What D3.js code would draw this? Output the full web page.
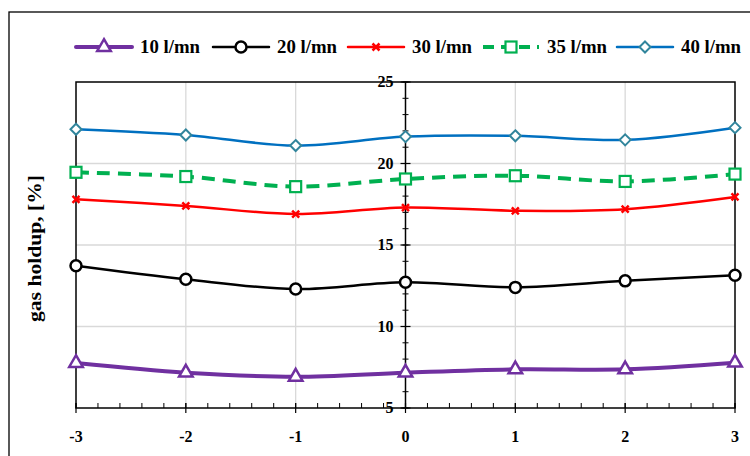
<!DOCTYPE html>
<html><head><meta charset="utf-8">
<script src="https://cdn.jsdelivr.net/npm/d3@7"></script>
<style>body{margin:0;background:#fff}svg{display:block}</style>
</head><body>
<svg id="c" width="750" height="456"></svg>
<script>
const positions = [-3, -2, -1, 0, 1, 2, 3];
const seriesNames = ["10 l/mn", "20 l/mn", "30 l/mn", "35 l/mn", "40 l/mn"];
const s10 = [7.76, 7.17, 6.92, 7.17, 7.37, 7.37, 7.78];
const s20 = [13.73, 12.9, 12.3, 12.71, 12.4, 12.8, 13.15];
const s30 = [17.8, 17.4, 16.9, 17.3, 17.1, 17.2, 17.95];
const s35 = [19.46, 19.2, 18.58, 19.05, 19.25, 18.9, 19.35];
const s40 = [22.1, 21.75, 21.1, 21.65, 21.7, 21.45, 22.2];
const xTicks = [-3, -2, -1, 0, 1, 2, 3];
const yTicks = [5, 10, 15, 20, 25];
const yTitle = "gas holdup, [%]";

const styles = [
  {color:"#7030A0", width:4, dash:null, marker:"triangle", mstroke:"#7030A0"},
  {color:"#000000", width:2.5, dash:null, marker:"circle", mstroke:"#000000"},
  {color:"#FF0000", width:2.5, dash:null, marker:"x", mstroke:"#FF0000"},
  {color:"#00B050", width:4, dash:"13,8", marker:"square", mstroke:"#00B050"},
  {color:"#0070C0", width:2.5, dash:null, marker:"diamond", mstroke:"#31859C"}
];
const allSeries = [s10, s20, s30, s35, s40];

const svg = d3.select("#c");
const font = "'Liberation Serif','Times New Roman',serif";
const L = 76, R = 735, T = 82, B = 408;
const x = d3.scaleLinear().domain([-3, 3]).range([L, R]);
const y = d3.scaleLinear().domain([5, 25]).range([B, T]);

// outer frame
svg.append("rect").attr("x", 9).attr("y", 12).attr("width", 760).attr("height", 470)
  .attr("fill", "none").attr("stroke", "#000").attr("stroke-width", 1.3);

// gridlines
const grid = svg.append("g");
grid.selectAll(".gy").data(yTicks.filter(v => v > 5 && v < 25)).enter().append("line")
  .attr("x1", L).attr("x2", R).attr("y1", d => y(d)).attr("y2", d => y(d))
  .attr("stroke", "#d9d9d9").attr("stroke-width", 1.3);
grid.selectAll(".gx").data(xTicks.filter(v => v !== -3 && v !== 3 && v !== 0)).enter().append("line")
  .attr("y1", T).attr("y2", B).attr("x1", d => x(d)).attr("x2", d => x(d))
  .attr("stroke", "#d9d9d9").attr("stroke-width", 1.3);

// plot box
svg.append("rect").attr("x", L).attr("y", T).attr("width", R - L).attr("height", B - T)
  .attr("fill", "none").attr("stroke", "#000").attr("stroke-width", 1.5);

// x axis with minor ticks
const xMinor = d3.range(-3, 3.0001, 0.2).map(v => +v.toFixed(2));
const xAxisG = svg.append("g");
xAxisG.selectAll(".mn").data(xMinor).enter().append("line")
  .attr("x1", d => x(d)).attr("x2", d => x(d)).attr("y1", B).attr("y2", B - 5)
  .attr("stroke", "#000").attr("stroke-width", 1);
xAxisG.selectAll(".mj").data(xTicks).enter().append("line")
  .attr("x1", d => x(d)).attr("x2", d => x(d)).attr("y1", B - 5).attr("y2", B + 5)
  .attr("stroke", "#000").attr("stroke-width", 1.2);
xAxisG.selectAll(".lb").data(xTicks).enter().append("text")
  .attr("x", d => x(d)).attr("y", B + 34).attr("text-anchor", "middle")
  .attr("font-family", font).attr("font-weight", "bold").attr("font-size", 16)
  .text(d => String(d));

// y axis at x=0
const x0 = x(0);
const yAxisG = svg.append("g");
yAxisG.append("line").attr("x1", x0).attr("x2", x0).attr("y1", T).attr("y2", B)
  .attr("stroke", "#000").attr("stroke-width", 1.5);
const yMinor = d3.range(5, 25.0001, 1);
yAxisG.selectAll(".mn").data(yMinor).enter().append("line")
  .attr("x1", x0 - 3).attr("x2", x0 + 3).attr("y1", d => y(d)).attr("y2", d => y(d))
  .attr("stroke", "#000").attr("stroke-width", 1);
yAxisG.selectAll(".mj").data(yTicks).enter().append("line")
  .attr("x1", x0 - 5).attr("x2", x0 + 5).attr("y1", d => y(d)).attr("y2", d => y(d))
  .attr("stroke", "#000").attr("stroke-width", 1.2);
yAxisG.selectAll(".lb").data(yTicks).enter().append("text")
  .attr("x", x0 - 12).attr("y", d => y(d) + 5).attr("text-anchor", "end")
  .attr("font-family", font).attr("font-weight", "bold").attr("font-size", 16)
  .text(d => d);

// y title
svg.append("text").attr("transform", `translate(41,${(175 + 322) / 2}) rotate(-90)`)
  .attr("text-anchor", "middle").attr("font-family", font).attr("font-weight", "bold")
  .attr("font-size", 19).attr("textLength", 147).attr("lengthAdjust", "spacingAndGlyphs")
  .text(yTitle);

function drawMarker(g, type, cx, cy, st) {
  if (type === "triangle") {
    const p = d3.symbol().type(d3.symbolTriangle).size(80)();
    g.append("path").attr("d", p).attr("transform", `translate(${cx},${cy})`)
      .attr("fill", "#fff").attr("stroke", st.mstroke).attr("stroke-width", 2.5);
  } else if (type === "circle") {
    g.append("circle").attr("cx", cx).attr("cy", cy).attr("r", 5.5)
      .attr("fill", "#fff").attr("stroke", st.mstroke).attr("stroke-width", 2.5);
  } else if (type === "x") {
    const s = 3.5;
    g.append("path").attr("d", `M${cx - s},${cy - s}L${cx + s},${cy + s}M${cx - s},${cy + s}L${cx + s},${cy - s}`)
      .attr("stroke", st.mstroke).attr("stroke-width", 2.5).attr("fill", "none");
  } else if (type === "square") {
    g.append("rect").attr("x", cx - 5.5).attr("y", cy - 5.5).attr("width", 11).attr("height", 11)
      .attr("fill", "#fff").attr("stroke", st.mstroke).attr("stroke-width", 2.2);
  } else if (type === "diamond") {
    const s = 5.5;
    g.append("path").attr("d", `M${cx},${cy - s}L${cx + s},${cy}L${cx},${cy + s}L${cx - s},${cy}Z`)
      .attr("fill", "#fff").attr("stroke", st.mstroke).attr("stroke-width", 2);
  }
}

const line = d3.line().x(d => x(d[0])).y(d => y(d[1])).curve(d3.curveCatmullRom.alpha(0.5));
const plot = svg.append("g");
allSeries.forEach((vals, i) => {
  const st = styles[i];
  const pts = positions.map((p, j) => [p, vals[j]]);
  plot.append("path").attr("d", line(pts)).attr("fill", "none")
    .attr("stroke", st.color).attr("stroke-width", st.width)
    .attr("stroke-dasharray", st.dash).attr("stroke-linejoin", "round");
  const mg = plot.append("g");
  pts.forEach(p => drawMarker(mg, st.marker, x(p[0]), y(p[1]), st));
});

// legend
const legX = [76, 213, 348, 483, 617];
const legY = 47;
const leg = svg.append("g");
seriesNames.forEach((name, i) => {
  const st = styles[i];
  const x1 = legX[i];
  leg.append("line").attr("x1", x1).attr("x2", x1 + 56).attr("y1", legY).attr("y2", legY)
    .attr("stroke", st.color).attr("stroke-width", st.width)
    .attr("stroke-dasharray", st.dash ? "11,7" : null).attr("stroke-linecap", st.dash ? "butt" : "round");
  drawMarker(leg, st.marker, x1 + 28, legY, st);
  leg.append("text").attr("x", x1 + 64).attr("y", legY + 6)
    .attr("font-family", font).attr("font-weight", "bold").attr("font-size", 19)
    .attr("textLength", 60).attr("lengthAdjust", "spacingAndGlyphs")
    .text(name);
});
</script>
</body></html>
